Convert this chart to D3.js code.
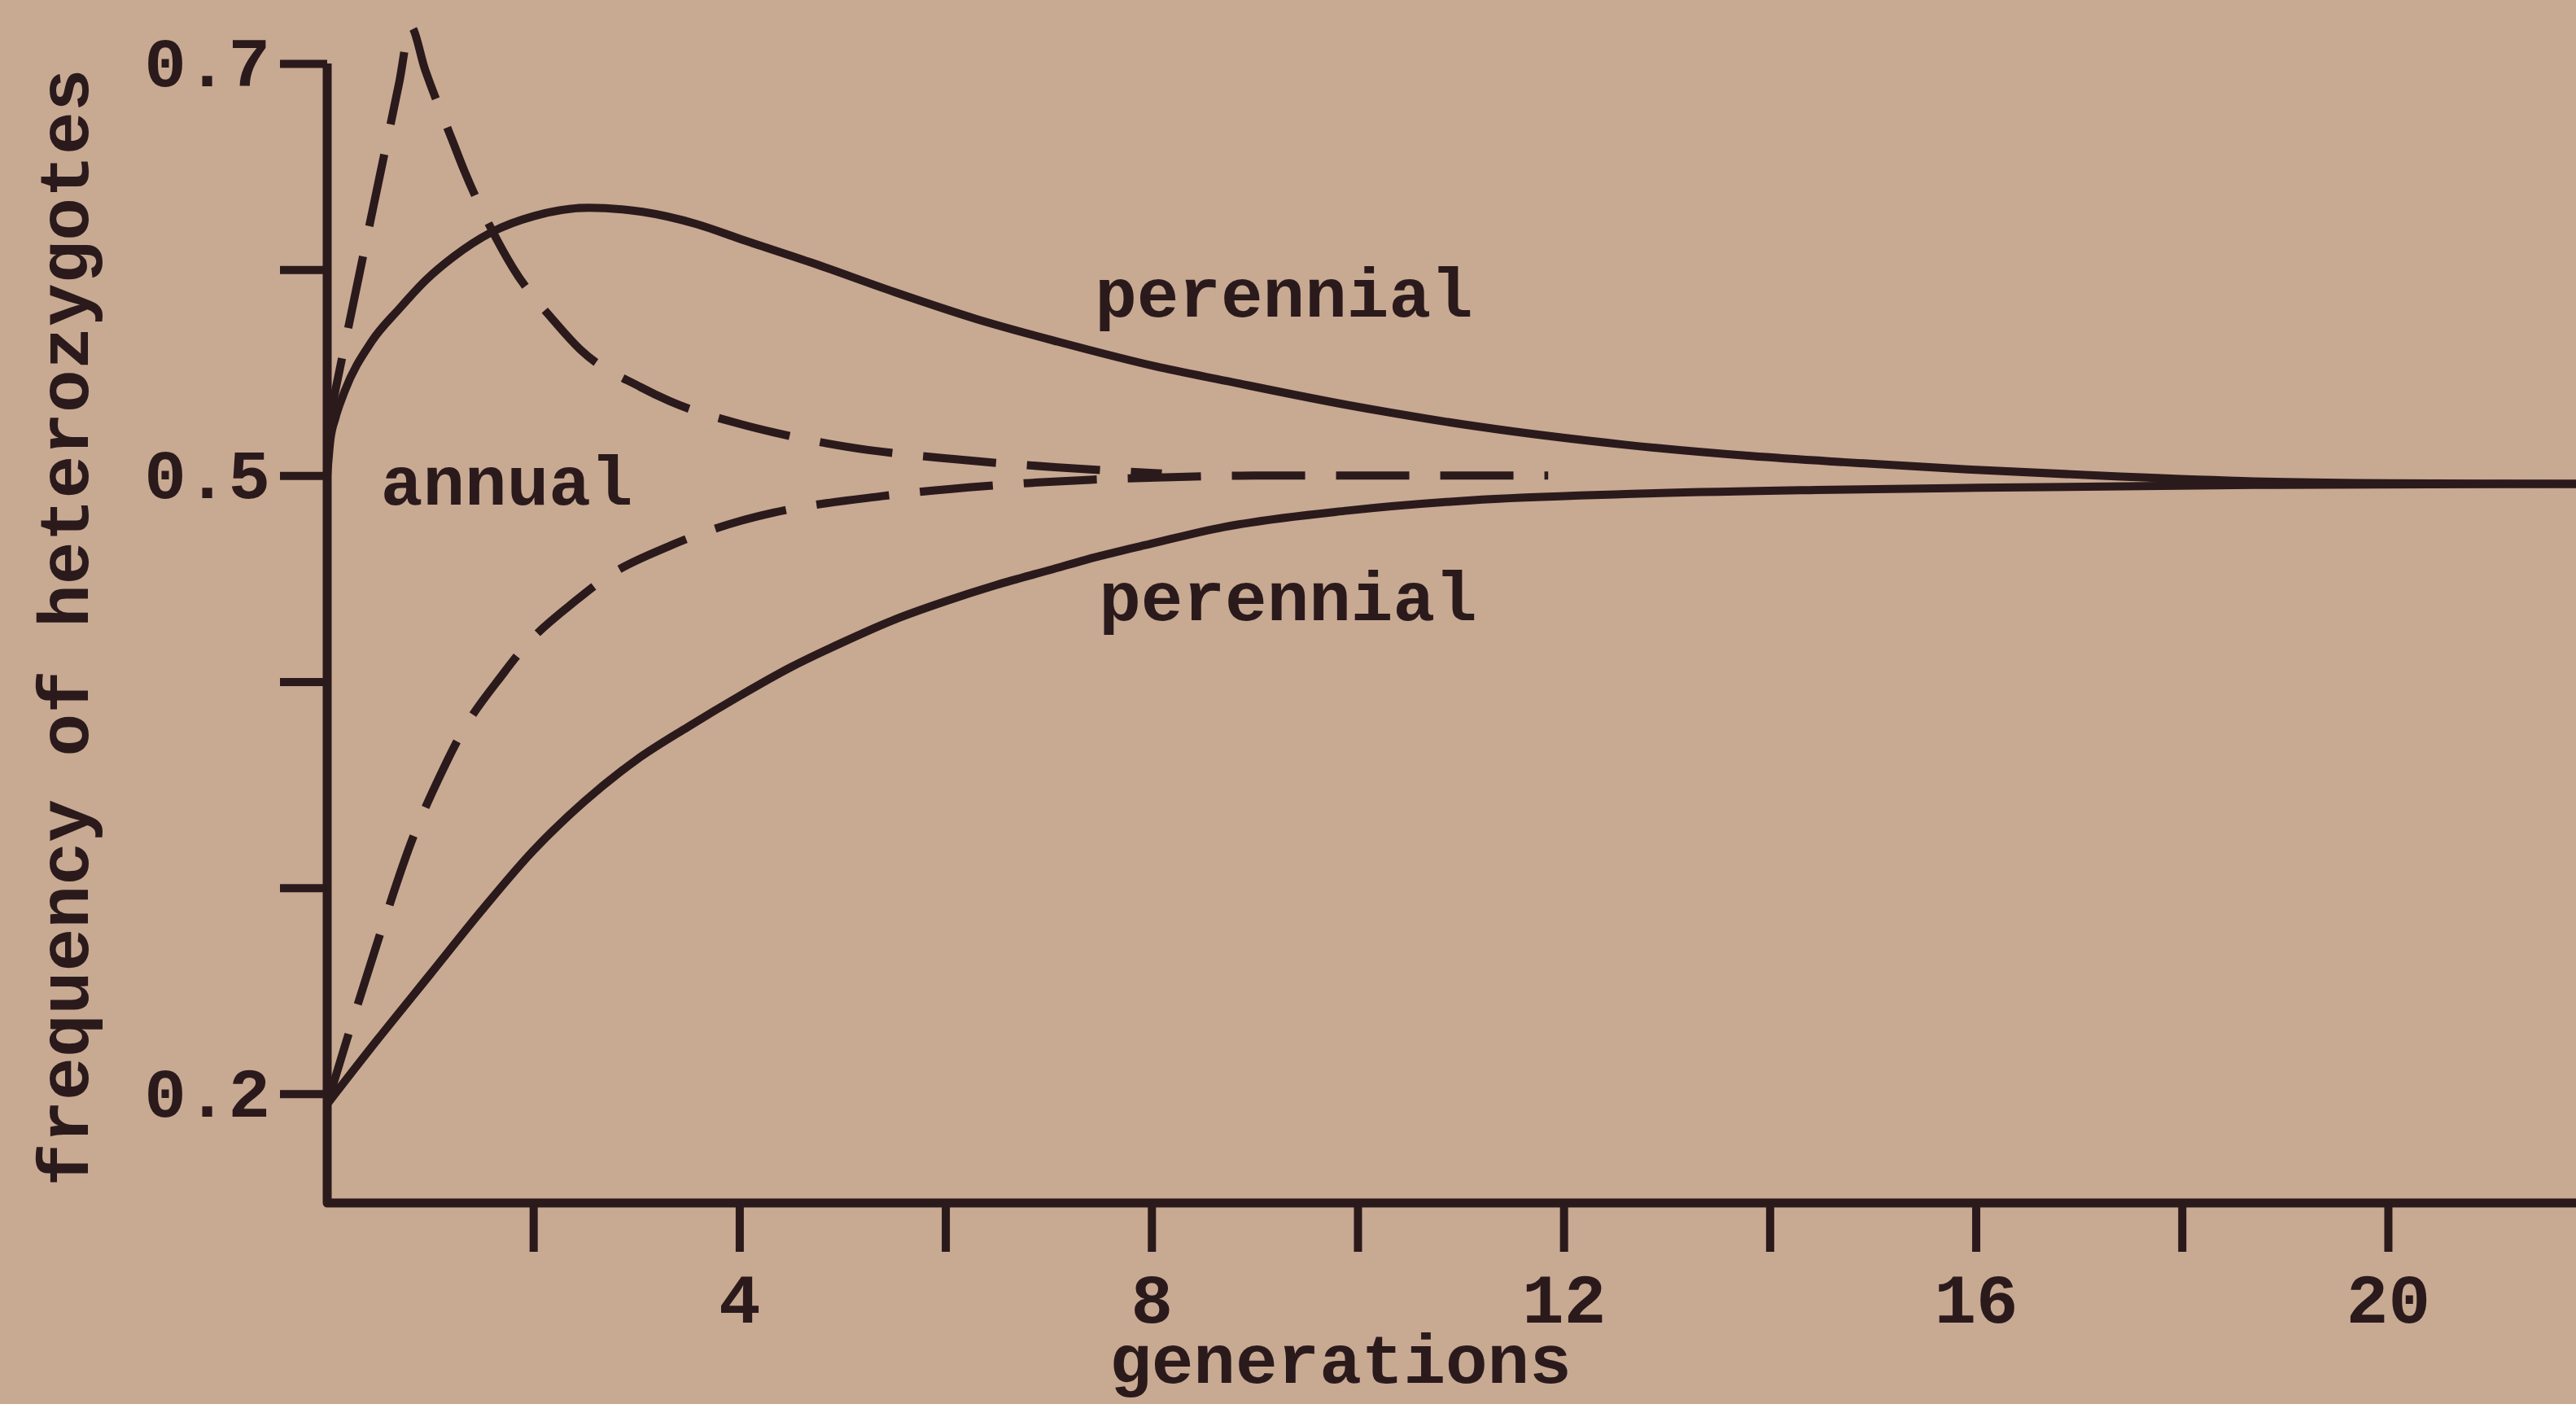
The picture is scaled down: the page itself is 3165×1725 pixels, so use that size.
<!DOCTYPE html>
<html>
<head>
<meta charset="utf-8">
<script src="https://cdn.jsdelivr.net/npm/d3@7"></script>
<style>
  html, body { margin: 0; padding: 0; background: #c8a992; }
  svg { display: block; }
</style>
</head>
<body>
<svg id="chart" width="3165" height="1725"></svg>
<script>
// ---- data (generations, frequency of heterozygotes) ----
const perennialHigh = [[0,0.5],[0.03,0.517],[0.08,0.528],[0.17,0.541],[0.43,0.565],[0.7,0.581],[0.96,0.595],[1.22,0.606],[1.59,0.618],[2.01,0.626],[2.54,0.630],[3.06,0.628],[3.59,0.622],[4.0,0.615],[4.72,0.603],[5.51,0.589],[6.3,0.576],[7.09,0.565],[8.04,0.553],[8.72,0.546],[9.93,0.534],[11.14,0.524],[12.59,0.515],[13.82,0.5095],[14.72,0.5065],[15.92,0.503],[17.4,0.4995],[18.7,0.4972],[20,0.4963],[21.83,0.496]];
const perennialLow = [[0,0.195],[0.5,0.227],[1.0,0.258],[1.5,0.289],[2.0,0.318],[2.5,0.342],[3.0,0.362],[3.5,0.378],[4.0,0.393],[4.5,0.407],[5.0,0.419],[5.5,0.430],[6.0,0.439],[6.5,0.447],[7.0,0.454],[7.5,0.461],[8.0,0.467],[8.7,0.475],[9.9,0.483],[11.1,0.488],[12.6,0.491],[14.45,0.493],[15.9,0.494],[18.7,0.4955],[21.83,0.496]];
const annualHigh = [[0,0.522],[0.4,0.619],[0.7,0.691],[0.81,0.718],[0.95,0.697],[1.22,0.662],[1.33,0.648],[1.59,0.620],[1.80,0.601],[2.22,0.574],[2.46,0.561],[3.04,0.543],[3.33,0.536],[4.01,0.525],[4.33,0.521],[5.04,0.514],[6.08,0.508],[7.09,0.504],[8.1,0.501]];
const annualLow = [[0,0.195],[0.22,0.231],[0.51,0.277],[0.83,0.324],[1.13,0.358],[1.27,0.372],[1.71,0.404],[1.90,0.416],[2.43,0.440],[2.69,0.450],[3.33,0.466],[4.01,0.478],[4.33,0.482],[5.38,0.490],[6.41,0.495],[7.41,0.498],[8.04,0.499],[9.0,0.5],[11.85,0.5]];

const xTicks = [2,4,6,8,10,12,14,16,18,20];
const xTickLabels = [4,8,12,16,20];
const yTicks = [0.2,0.3,0.4,0.5,0.6,0.7];
const yTickLabels = [0.2,0.5,0.7];

const curveLabels = [
  {text: "perennial", g: 7.45, v: 0.577},
  {text: "perennial", g: 7.49, v: 0.430},
  {text: "annual", g: 0.52, v: 0.486}
];

// ---- layout ----
const W = 3165, H = 1725;
const ink = "#2b1a1c";
const font = "'Liberation Mono', 'DejaVu Sans Mono', monospace";
const fs = 86;

const svg = d3.select("#chart");
svg.append("rect").attr("width", W).attr("height", H).attr("fill", "#c8a992");

const x = d3.scaleLinear().domain([0, 21.825]).range([402, 3165]);
const y = d3.scaleLinear().domain([0.147, 0.7]).range([1478, 78]);

// y axis ticks
const gy = svg.append("g")
  .attr("transform", `translate(${x(0)},0)`)
  .call(d3.axisLeft(y).tickValues(yTicks).tickSize(58).tickPadding(12)
    .tickFormat(d => yTickLabels.some(v => Math.abs(v - d) < 1e-9) ? d.toFixed(1) : ""));
gy.select(".domain").remove();
gy.selectAll(".tick line").attr("stroke", ink).attr("stroke-width", 10);
gy.selectAll(".tick text").attr("fill", ink).attr("font-family", font)
  .attr("font-weight", "bold").attr("font-size", fs);

// x axis ticks
const gx = svg.append("g")
  .attr("transform", `translate(0,${y(0.147)})`)
  .call(d3.axisBottom(x).tickValues(xTicks).tickSize(60).tickPadding(26)
    .tickFormat(d => xTickLabels.includes(d) ? d : ""));
gx.select(".domain").remove();
gx.selectAll(".tick line").attr("stroke", ink).attr("stroke-width", 10);
gx.selectAll(".tick text").attr("fill", ink).attr("font-family", font)
  .attr("font-weight", "bold").attr("font-size", fs);

// axis frame
svg.append("path")
  .attr("d", d3.line()([[x(0), y(0.7)], [x(0), y(0.147)], [x(21.825), y(0.147)]]))
  .attr("fill", "none").attr("stroke", ink).attr("stroke-width", 11)
  .attr("stroke-linejoin", "round");

// curves
const line = d3.line().x(d => x(d[0])).y(d => y(d[1])).curve(d3.curveMonotoneX);
const series = [
  {data: perennialHigh, dash: null},
  {data: perennialLow, dash: null},
  {data: annualHigh, dash: "90,38"},
  {data: annualLow, dash: "90,38"}
];
svg.append("g").selectAll("path").data(series).join("path")
  .attr("d", d => line(d.data))
  .attr("fill", "none").attr("stroke", ink).attr("stroke-width", 10)
  .attr("stroke-linecap", "butt").attr("stroke-linejoin", "round")
  .attr("stroke-dasharray", d => d.dash);

// curve labels
svg.append("g").selectAll("text").data(curveLabels).join("text")
  .attr("x", d => x(d.g)).attr("y", d => y(d.v))
  .attr("fill", ink).attr("font-family", font).attr("font-weight", "bold")
  .attr("font-size", fs).text(d => d.text);

// axis titles
svg.append("text")
  .attr("x", 1647).attr("y", 1699).attr("text-anchor", "middle")
  .attr("fill", ink).attr("font-family", font).attr("font-weight", "bold")
  .attr("font-size", fs).text("generations");

svg.append("text")
  .attr("transform", "translate(108,771) rotate(-90)").attr("text-anchor", "middle")
  .attr("fill", ink).attr("font-family", font).attr("font-weight", "bold")
  .attr("font-size", 88).text("frequency of heterozygotes");
</script>
</body>
</html>
